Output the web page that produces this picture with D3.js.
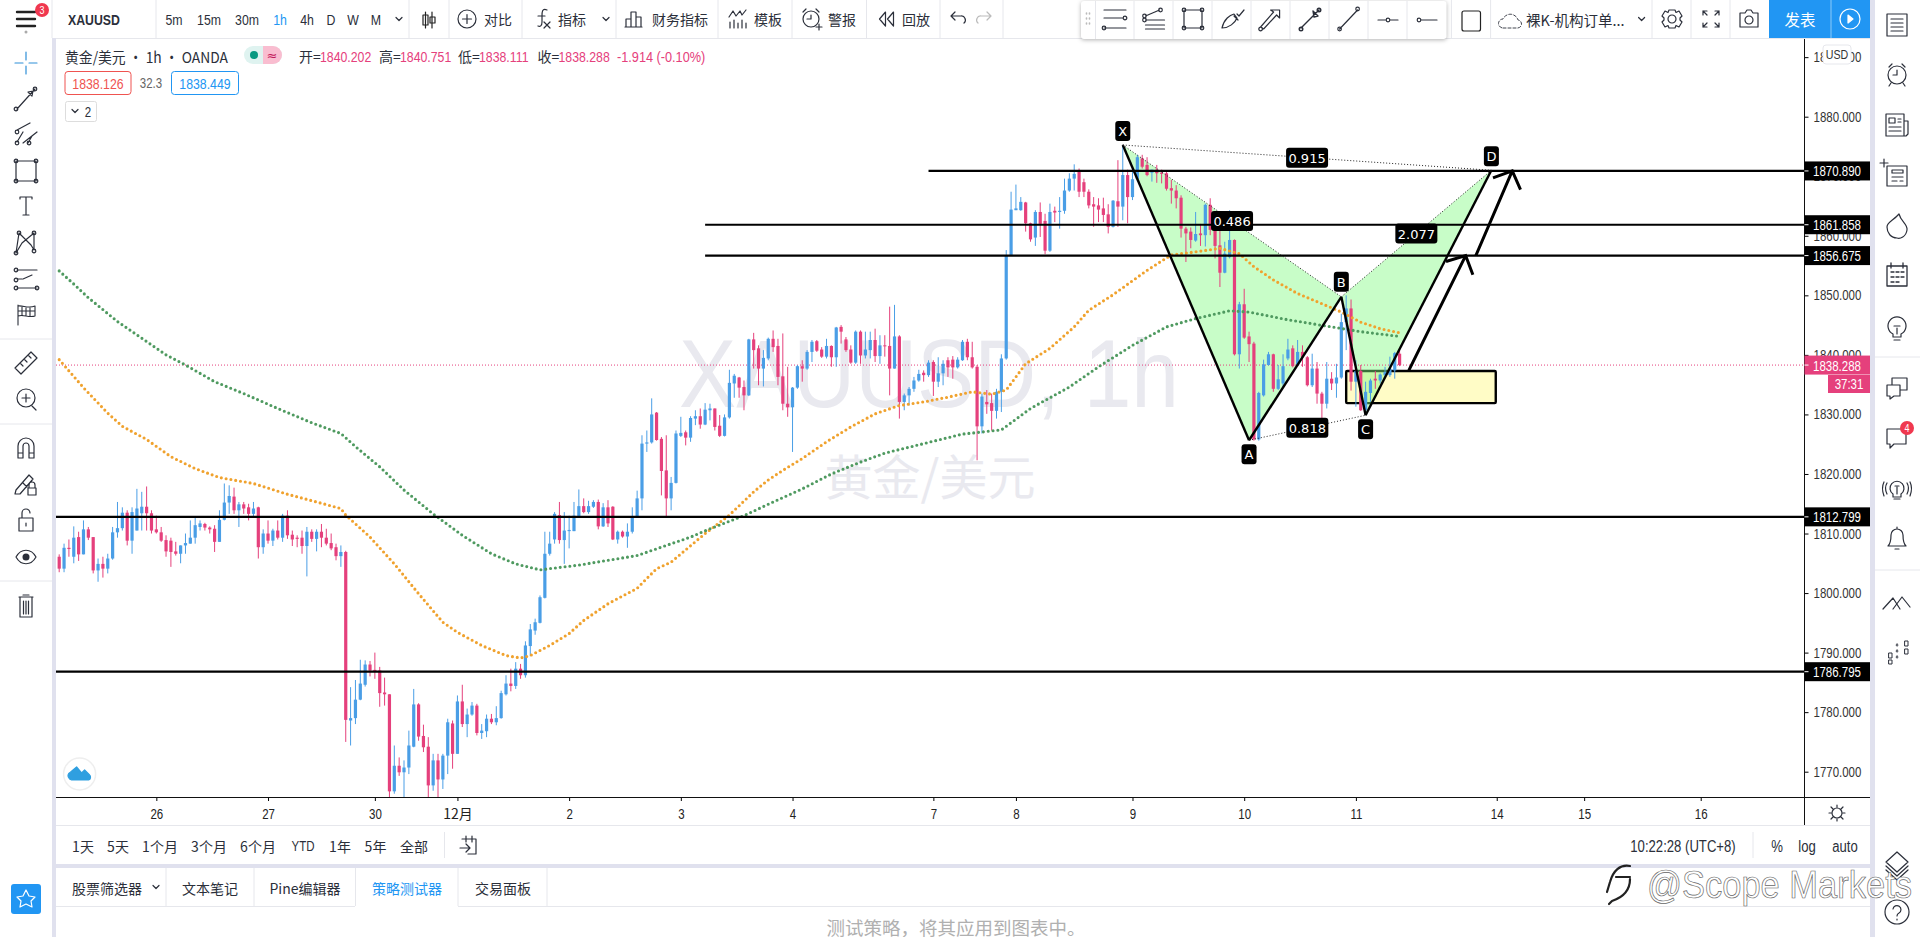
<!DOCTYPE html>
<html>
<head>
<meta charset="utf-8">
<title>XAUUSD 1h</title>
<script src="https://cdn.jsdelivr.net/npm/d3@7/dist/d3.min.js"></script>
<style>
  html, body { margin: 0; padding: 0; background: #fff; overflow: hidden; }
  svg { display: block; }
</style>
</head>
<body>
<svg id="page" width="1920" height="937"></svg>
<script>
// ==================== data ====================

const candleOpen = [
  1806.1,1804.1,1807.6,1806.1,1809.4,1806.5,1810.7,1809.4,1803.8,1804.9,1804.1,1805.8,1810.2,1810.9,1813.5,1808.8,1810.5,1813.4,1814.5,1813.4,
  1810.7,1810.2,1808.9,1808.8,1807,1806.6,1808,1808.3,1809.3,1811.1,1811.6,1811,1810.8,1808.6,1812.3,1815.2,1816.2,1813.9,1814.9,1814.4,
  1813.3,1814.4,1807.7,1810,1808.8,1810.5,1809.3,1813,1809.8,1809.3,1809.3,1807.9,1810.3,1809.1,1810.3,1809.3,1808.4,1807.7,1806.2,1806.9,
  1778.6,1779,1782.1,1784.6,1788,1787.1,1787,1783.3,1783,1766.7,1771,1769.9,1770.7,1774.2,1781.3,1776,1774.2,1767.7,1771.9,1768.7,
  1772.7,1778.1,1773,1781.8,1778,1779.6,1781.1,1776.5,1776.8,1778.9,1778.3,1779,1783,1784.8,1784.4,1787.3,1786.2,1791.1,1793.7,1795,
  1799.2,1806.6,1809,1813.1,1808.9,1810.4,1810.4,1812.8,1814.6,1813.6,1814.5,1815.3,1811.2,1814.4,1814.5,1809,1810.3,1809.5,1810.3,1812.9,
  1815.9,1825.1,1825.3,1830.3,1825.9,1820.6,1815.9,1818.5,1826.4,1827,1826.1,1829.3,1829.7,1828.3,1830.7,1831,1828.1,1826.4,1829.5,1835.2,
  1836.2,1834.6,1833.2,1842.6,1841.1,1837.7,1839.4,1842.7,1841.5,1836.4,1831.8,1831.2,1834.5,1838.1,1837.7,1840.5,1842.3,1840.9,1839.7,1841.5,
  1839.6,1844.7,1842.6,1840.9,1838.7,1843.9,1839.9,1840.8,1842.5,1839.8,1841.6,1841.5,1837.7,1843.1,1832.1,1833.2,1834.3,1835.7,1837,1836.6,
  1838.8,1835.5,1836.9,1839.1,1839.2,1837.9,1839.1,1842.2,1839.6,1838,1828,1832.1,1831.9,1830.6,1833.8,1839.4,1856.7,1864.3,1864.3,1865.6,
  1862.1,1859.7,1864,1862.5,1857.5,1864.2,1864,1864.2,1867.6,1869.6,1870.9,1869,1867.4,1865.3,1865.1,1864.6,1863.6,1861.5,1865.8,1864.9,
  1870.2,1866.5,1869.5,1873,1871.9,1870.6,1871.1,1870.6,1870.5,1868,1867.6,1866.4,1861.2,1860.7,1859.2,1860.4,1860.1,1865.2,1861.2,1858.4,
  1853.8,1856.4,1859.3,1840.1,1848.5,1843.1,1841.9,1825.8,1833.2,1838.3,1840.1,1834.3,1835.2,1839.4,1841.1,1838.3,1840.5,1839.6,1834.9,1837.7,
  1833.5,1831.8,1836,1835.2,1836.2,1845.5,1847.8,1835.5,1837.3,1830.7,1833.6,1836,1835.7,1836.6,1836.6,1837.4,1840.2
];
const candleHigh = [
  1806.5,1808.3,1809,1811.2,1810.3,1812.2,1811.1,1809.4,1805.8,1806.1,1806.6,1811.1,1815.3,1814.4,1813.9,1814.4,1817.5,1817,1817.9,1813.9,
  1813,1811.1,1809.7,1809.3,1808.6,1808,1810,1812.2,1812.8,1812.2,1811.8,1811.2,1811.4,1813.9,1818.4,1818.1,1817.7,1815.3,1815.3,1815,
  1815.3,1814.5,1810.7,1812.2,1810.8,1812.2,1813.3,1813.9,1810.5,1809.7,1810.5,1811.1,1810.7,1810.7,1811.6,1810.8,1810,1808.3,1808,1807.1,
  1784.2,1785.4,1788.8,1788.7,1788.6,1790,1787.6,1785.8,1783,1774.4,1772.4,1771.9,1776.9,1783.9,1781.5,1777.9,1775.8,1773,1773,1773,
  1778.9,1778.6,1782.8,1784.6,1780.6,1781.7,1781.4,1778,1779.6,1779.7,1781,1783.6,1786.2,1787.3,1788.4,1788.1,1791.9,1794.8,1795.7,1799.6,
  1810.3,1810.3,1813.6,1815.3,1813.6,1813,1815.3,1817.4,1815.9,1815.5,1815.6,1815.7,1815.1,1815.6,1814.6,1810.5,1810.5,1811.7,1814.4,1817.2,
  1826.5,1827.3,1832.7,1830.4,1826.2,1826.5,1819.5,1827.3,1829.6,1827.3,1829.7,1830.7,1831,1831.9,1831.8,1831,1829.9,1830,1837.5,1836.8,
  1836.3,1835.7,1842.7,1843.7,1841.6,1840.8,1842.9,1844.1,1842.7,1843.6,1838,1834.6,1838.3,1839.1,1840.8,1842.5,1842.5,1841.3,1842.7,1841.6,
  1844.7,1845,1843,1841.6,1844.1,1844.1,1843.9,1843.9,1844.4,1843.3,1843.3,1848.1,1848.4,1843.3,1833.5,1834.6,1836.3,1837.5,1837.4,1839.1,
  1839.1,1839.6,1839.1,1839.6,1839.8,1839.6,1842.5,1842.7,1842.2,1838.3,1833.5,1834.1,1833.5,1834.3,1840.1,1857.6,1867.4,1868.6,1866.5,1865.7,
  1862.2,1864.3,1865.6,1863.7,1865.4,1864.9,1866.5,1869.6,1870.5,1872,1871.3,1869.6,1867.8,1866.5,1866.3,1866.4,1865.3,1866,1872.7,1875.2,
  1871.1,1871.6,1873.6,1873.6,1873.2,1871.1,1871.9,1871.1,1870.8,1869.4,1868.5,1866.8,1861.5,1861.4,1864,1862,1865.4,1866.3,1862.6,1861.2,
  1859,1864.3,1859.4,1848.9,1851.1,1843.9,1842.2,1833.8,1839.2,1840.5,1840.2,1838.3,1840.1,1842.7,1841.6,1842.5,1841.6,1839.8,1840.2,1838.8,
  1833.8,1838.8,1837.1,1838.5,1846.9,1850,1849.3,1839.1,1838.3,1835.5,1836,1837.3,1836.9,1838,1839.7,1840.5,1840.751
];
const candleLow = [
  1803.5,1803.5,1806.1,1805,1805.4,1806.5,1808.9,1803.3,1801.9,1802.6,1803.3,1805.6,1809.3,1810.5,1808,1806.6,1810.5,1810.5,1810.5,1810,
  1810,1808.6,1806.1,1804.4,1806.3,1805,1806.6,1808.3,1808.3,1810.5,1810.5,1810,1806.9,1808.6,1812.2,1813.3,1813.3,1811.1,1813.3,1812.2,
  1812.8,1805.8,1806.6,1808.3,1807.9,1809,1808.6,1809.1,1807.9,1807.7,1806.6,1802.8,1808.6,1807,1807.7,1808,1807.2,1805.5,1804.4,1775,
  1774.4,1778,1782,1784.3,1786,1785.6,1780.9,1781.1,1765.7,1766.3,1769.3,1765.7,1769.6,1774.1,1775.2,1773.3,1765.7,1766.8,1765.7,1767.1,
  1769.6,1770.5,1773,1777.5,1775.8,1779.4,1776.1,1775.5,1775.8,1778,1777.8,1778.9,1782.8,1783.5,1783.9,1785.6,1785.8,1789.4,1793,1794.9,
  1799.1,1806.3,1808.3,1808.3,1804.9,1807.5,1810.4,1812.8,1813.4,1813.3,1814.3,1810.7,1811.1,1811.1,1808.9,1808.3,1809.3,1807.6,1810,1812.8,
  1813.9,1823.7,1825.1,1825.6,1816.4,1812.8,1813.9,1818.4,1826.2,1824.8,1825.4,1828.2,1827.6,1828.2,1829,1827.3,1826.2,1826.3,1829.3,1832.8,
  1832.8,1830.7,1833.1,1837.7,1834.9,1834.7,1839.1,1840.5,1834.9,1830.7,1829.6,1823.7,1834.3,1835.5,1837.5,1838.8,1840.5,1839.5,1839.4,1838,
  1838,1841.9,1840.5,1838.5,1838.5,1838.5,1839.4,1839.4,1838.8,1838.5,1839.7,1833.2,1837.7,1829.3,1830.7,1831.5,1833.8,1835.5,1835.5,1836.3,
  1833.1,1834.6,1834.9,1836.3,1836,1837.7,1839,1839.1,1837.7,1822.3,1826.8,1830.1,1827.3,1829.3,1830.4,1839.2,1856.6,1864.3,1864.2,1860.7,
  1859,1858.3,1859.8,1856.9,1857.3,1862.3,1861.2,1863.7,1867.4,1867.6,1866.5,1866.5,1864.6,1861.5,1862.3,1862.3,1860.4,1861.4,1861.5,1862.6,
  1862.1,1866,1869.1,1871.3,1870,1869.1,1868.9,1868.8,1867.6,1865.4,1864.6,1859.7,1855.6,1857.9,1859,1858.3,1858.2,1860.1,1856.2,1851.4,
  1853.7,1856.2,1839.9,1837.7,1842.7,1838.8,1825.6,1825.6,1833,1838.2,1833.8,1834.1,1834.6,1839.1,1837.9,1838.1,1838,1834.7,1834.6,1831.8,
  1829.3,1831,1834.1,1832.8,1836,1840.8,1834,1831.3,1830.6,1830.4,1832.1,1834.3,1835.2,1836.3,1836.3,1836,1838.111
];
const candleClose = [
  1804.1,1807.6,1807.4,1809.3,1806.5,1810.7,1809.3,1803.8,1804.9,1804.1,1805.8,1810.2,1810.9,1813.5,1808.8,1813.6,1814.2,1814.5,1813.4,1810.5,
  1810.2,1808.8,1807,1806.9,1806.6,1808,1808.4,1809.3,1811.4,1811.7,1811,1810.7,1808.6,1812.3,1815.2,1816.3,1813.9,1814.9,1814.2,1813.3,
  1814.2,1807.7,1810,1808.8,1810.5,1809.3,1813,1809.7,1809,1809.1,1807.9,1810.3,1809.1,1810.3,1809.3,1808.3,1807.5,1806.2,1806.9,1778.7,
  1779,1782.1,1784.8,1788,1787,1786.9,1783.2,1783,1766.7,1771,1769.9,1770.7,1774.4,1781.3,1775.9,1774.1,1767.7,1771.9,1768.7,1772.7,
  1778.3,1773,1781.8,1778,1779.6,1781.1,1776.5,1776.9,1778.9,1778.3,1779,1783.2,1784.8,1784.4,1787.3,1786.2,1791.2,1793.9,1795.1,1799.3,
  1806.6,1808.3,1813.3,1808.9,1810.5,1810.6,1813,1814.6,1813.6,1814.6,1815.3,1811.2,1814.4,1811.7,1809,1810.3,1809.5,1810.3,1812.9,1815.9,
  1825.1,1825.3,1830,1825.7,1820.5,1815.9,1818.5,1826.8,1826.9,1826.1,1829.4,1829.7,1828.3,1830.8,1831,1827.9,1826.4,1829.5,1835.3,1836.5,
  1834.5,1833.2,1842.6,1840.8,1837.7,1839.5,1842.7,1841.3,1836.3,1831.8,1831.2,1834.5,1838.1,1837.7,1840.5,1842.2,1840.7,1839.7,1841.5,1839.6,
  1844.6,1843.9,1840.8,1838.7,1843.9,1839.9,1840.9,1842.5,1839.8,1841.6,1841.5,1837.7,1843.1,1832.1,1833.2,1834.3,1835.7,1836.8,1836.6,1838.7,
  1835.5,1836.9,1838.5,1837.9,1837.9,1839.2,1842.2,1839.6,1837.9,1828,1833,1831.7,1830.6,1833.8,1839.4,1856.7,1864.4,1864.6,1865.7,1862.1,
  1859.4,1864,1862,1857.5,1864,1863.9,1864.2,1867.6,1869.6,1870.4,1867.4,1867.4,1865.1,1864.9,1864.4,1863.5,1861.5,1865.9,1864.9,1870.2,
  1866.5,1869.5,1873.2,1871.6,1870.2,1871.1,1870.5,1870.4,1867.9,1867.6,1866.3,1861.2,1860.4,1859.3,1860.3,1860.1,1865.2,1861,1858.3,1853.8,
  1857,1859.3,1840.1,1848.5,1842.9,1841.8,1825.8,1833.6,1838.4,1840.1,1834.3,1835.9,1838.1,1840.9,1838.1,1840.5,1839.6,1834.9,1837.7,1833.5,
  1831.8,1836,1835.2,1836.2,1845.5,1847.8,1835.5,1837.3,1830.7,1833.8,1835.7,1835.7,1836.7,1837.1,1837.7,1840.3,1838.288
];

const orangeBars = [0,5,10,13,18,23,28,33,40,47,53,58,59,64,69,74,79,82,87,92,95,97,101,105,108,113,119,123,126,133,138,143,146,149,153,158,163,168,173,178,183,188,192,195,197,199,204,209,212,217,224,229,234,239,243,246,250,255,260,264,268,272,276];
const orangeMa = [1839.2,1834.5,1830.2,1828,1825.8,1822.9,1820.9,1819.4,1818.4,1816.6,1815.3,1814.2,1813.1,1809.4,1804.9,1799.9,1795.1,1793.4,1791.2,1789.5,1789.1,1789.5,1791.2,1793.2,1795.4,1798.2,1800.8,1804.1,1805.2,1810,1813.1,1817,1819,1820.6,1822.6,1825.4,1827.9,1830.1,1831.5,1832.1,1832.9,1833.8,1833.4,1834.1,1836.3,1838.5,1841.1,1844.7,1847.5,1850.1,1854.2,1856.8,1857.3,1857.9,1857,1854.8,1852.6,1850.3,1848.6,1847.2,1845.5,1844.4,1843.7];
const greenBars = [0,3,6,12,17,22,26,32,38,45,52,58,61,66,71,77,83,89,94,99,101,107,113,119,125,130,134,141,147,153,159,165,170,178,186,194,200,208,214,221,228,234,241,245,253,262,268,276];
const greenMa = [1854.1,1851.9,1849.6,1845.6,1842.8,1840,1838.3,1835.5,1833.5,1831,1828.6,1826.8,1824.6,1821.2,1817.3,1813.3,1809.7,1806.6,1804.9,1803.9,1804.1,1804.7,1805.5,1806.3,1808,1809.4,1810.8,1813,1815.3,1817.5,1820,1822,1823.5,1825.1,1826.7,1827.4,1831,1834.6,1838,1841.6,1844.7,1846.1,1847.4,1847.2,1845.9,1844.7,1843.9,1843.1];

const priceTicks = [1890,1880,1870,1860,1850,1840,1830,1820,1810,1800,1790,1780,1770];
const dateTickBars = [20,43,65,82,105,128,151,180,197,221,244,267,296,314,338];
const dateTickLabels = ['26','27','30','12月','2','3','4','7','8','9','10','11','14','15','16'];

const levelPrices = [1870.89,1861.858,1856.675,1812.799,1786.795];
const levelStartBars = [179,133,133,-1,-1];
const levelLabels = ['1870.890','1861.858','1856.675','1812.799','1786.795'];

const lastPrice = 1838.288;
const patternNames = ['X','A','B','C','D'];
const patternBars = [219,245,264,269,294.9];
const patternPrices = [1875.25,1825.66,1849.75,1829.86,1871];
const patternNameDy = [-14,14,-15,14,-14];
const ratioLabels = ['0.915','0.486','2.077','0.818'];
const ratioFrom = [0,0,2,1];
const ratioTo = [4,2,4,3];

const zoneBars = [265,295.8];
const zonePrices = [1837.3,1831.9];
const arrowTailBars = [277.9,291.7];
const arrowTailPrices = [1837.4,1856.675];
const arrowTipBars = [289.6,299.2];
const arrowTipPrices = [1856.675,1870.89];

const intervalLabels = ['5m','15m','30m','1h','4h','D','W','M'];
const rangeLabels = ['1天','5天','1个月','3个月','6个月','YTD','1年','5年','全部'];
const panelTabs = ['股票筛选器','文本笔记','Pine编辑器','策略测试器','交易面板'];

// ==================== scales and page frame ====================

const svg = d3.select('#page');
const sans = '"Liberation Sans",sans-serif';
const cjk = '"Noto Sans CJK SC","Liberation Sans",sans-serif';
const dejavu = '"DejaVu Sans",sans-serif';
const UP = '#4a9ee6', DOWN = '#e5407c', INK = '#2b2f3a', RULE = '#e6e7ec', STRIP = '#e0e1ee', BLUE = '#2196f3';

const chartLeft = 56, chartRight = 1804.5, chartTop = 38, chartBottom = 797;
const x = d3.scaleLinear().domain([0, 276]).range([59.2, 1399.6]);
const y = d3.scaleLinear().domain([1770, 1880]).range([771.7, 116.7]);

function txt(parent, px, py, str, o = {}) {
  return parent.append('text')
    .attr('x', px).attr('y', py)
    .attr('dominant-baseline', 'central')
    .attr('text-anchor', o.anchor || 'middle')
    .style('font-family', o.family || sans)
    .style('font-size', (o.size || 14) + 'px')
    .style('font-weight', o.weight || 'normal')
    .style('fill', o.fill || INK)
    .text(str);
}
function rect(parent, rx, ry, w, h, fill, o = {}) {
  return parent.append('rect').attr('x', rx).attr('y', ry).attr('width', w).attr('height', h)
    .attr('rx', o.r || 0).style('fill', fill).style('stroke', o.stroke || 'none').style('stroke-width', o.sw || 1);
}
function vrule(parent, px, y1, y2, col) {
  parent.append('line').attr('x1', px).attr('x2', px).attr('y1', y1).attr('y2', y2).style('stroke', col || RULE);
}
function hrule(parent, py, x1, x2, col) {
  parent.append('line').attr('x1', x1).attr('x2', x2).attr('y1', py).attr('y2', py).style('stroke', col || RULE);
}
function icon(parent, px, py, d, o = {}) {
  return parent.append('path').attr('transform', `translate(${px},${py})`).attr('d', d)
    .style('fill', o.fill || 'none').style('stroke', o.stroke || INK).style('stroke-width', o.sw || 1.2)
    .style('stroke-linecap', 'round').style('stroke-linejoin', 'round');
}

rect(svg, 0, 0, 1920, 937, '#fff');

// ==================== chart pane ====================

const pane = svg.append('g');
svg.append('defs').append('clipPath').attr('id', 'paneClip')
  .append('rect').attr('x', chartLeft).attr('y', chartTop).attr('width', chartRight - chartLeft).attr('height', chartBottom - chartTop);
pane.attr('clip-path', 'url(#paneClip)');

// watermark
pane.append('text').attr('x', 679).attr('y', 407).attr('textLength', 500).attr('lengthAdjust', 'spacingAndGlyphs')
  .style('font-family', sans).style('font-size', '97px').style('fill', '#e9e9ef').text('XAUUSD, 1h');
txt(pane, 930, 474, '黄金/美元', { size: 48, family: cjk, fill: '#e9e9ef' });

// pattern fills sit under the candles
rect(pane, x(zoneBars[0]), y(zonePrices[0]), x(zoneBars[1]) - x(zoneBars[0]), y(zonePrices[1]) - y(zonePrices[0]), '#fffcc6', { stroke: '#000', sw: 2.4, r: 1 });
const pt = i => [x(patternBars[i]), y(patternPrices[i])];
[[0, 1, 2], [2, 3, 4]].forEach(tri => {
  pane.append('path').attr('d', d3.line()(tri.map(pt)) + 'Z').style('fill', 'rgba(130,250,130,0.44)');
});

pane.append('line').attr('x1', chartLeft).attr('x2', chartRight).attr('y1', y(lastPrice)).attr('y2', y(lastPrice))
  .style('stroke', DOWN).style('stroke-dasharray', '1 2');

// candles
const candles = pane.selectAll('.bar').data(candleOpen.map((o, i) => i)).enter().append('g').attr('class', 'bar');
const barColor = i => candleClose[i] >= candleOpen[i] ? UP : DOWN;
candles.append('line')
  .attr('x1', i => x(i)).attr('x2', i => x(i))
  .attr('y1', i => y(candleHigh[i])).attr('y2', i => y(candleLow[i]))
  .style('stroke', barColor).style('stroke-width', 1);
candles.append('rect')
  .attr('x', i => x(i) - 1.6).attr('width', 3.2)
  .attr('y', i => y(Math.max(candleOpen[i], candleClose[i])))
  .attr('height', i => Math.max(1, Math.abs(y(candleOpen[i]) - y(candleClose[i]))))
  .style('fill', barColor);

// moving averages
function maLine(bars, values, col) {
  const line = d3.line().x(d => x(d[0])).y(d => y(d[1]));
  pane.append('path').attr('d', line(bars.map((b, i) => [b, values[i]])))
    .style('fill', 'none').style('stroke', col).style('stroke-width', 3.1)
    .style('stroke-linecap', 'round').style('stroke-dasharray', '0 4.86');
}
maLine(orangeBars, orangeMa, '#f0a22e');
maLine(greenBars, greenMa, '#4f9a60');

// levels
levelPrices.forEach((p, i) => {
  const left = levelStartBars[i] < 0 ? chartLeft : x(levelStartBars[i]);
  pane.append('line').attr('x1', left).attr('x2', chartRight).attr('y1', y(p)).attr('y2', y(p))
    .style('stroke', '#000').style('stroke-width', 2.2);
});

// XABCD legs
[[0, 1], [1, 2], [2, 3], [3, 4]].forEach(l => {
  pane.append('path').attr('d', d3.line()(l.map(pt))).style('stroke', '#000').style('stroke-width', 2.4).style('fill', 'none');
});
ratioFrom.forEach((a, i) => {
  pane.append('path').attr('d', d3.line()([pt(a), pt(ratioTo[i])]))
    .style('stroke', '#222').style('stroke-width', 1).style('stroke-dasharray', '1 2').style('fill', 'none');
});

// arrows
arrowTipBars.forEach((b, i) => {
  const tail = [x(arrowTailBars[i]), y(arrowTailPrices[i])], tip = [x(b), y(arrowTipPrices[i])];
  const back = Math.atan2(tail[1] - tip[1], tail[0] - tip[0]);
  const barb = a => [tip[0] + 20.5 * Math.cos(back + a), tip[1] + 20.5 * Math.sin(back + a)];
  pane.append('path').attr('d', d3.line()([tail, tip]) + d3.line()([barb(0.82), tip, barb(-0.82)]))
    .style('fill', 'none').style('stroke', '#000').style('stroke-width', 3);
});

// pattern labels
function tag(px, py, str, w, h) {
  rect(pane, px - w / 2, py - h / 2, w, h, '#000', { r: 3 });
  txt(pane, px, py + 0.5, str, { family: dejavu, size: 13, fill: '#fff' });
}
patternNames.forEach((n, i) => tag(pt(i)[0], pt(i)[1] + patternNameDy[i], n, 15, 20));
ratioLabels.forEach((r, i) => {
  const a = pt(ratioFrom[i]), b = pt(ratioTo[i]);
  tag((a[0] + b[0]) / 2, (a[1] + b[1]) / 2, r, 42, 20);
});

// ==================== axes ====================

const axes = svg.append('g');
const priceAxis = axes.append('g').attr('transform', `translate(${chartRight},0)`)
  .call(d3.axisRight(y).tickValues(priceTicks).tickSize(4).tickPadding(5).tickFormat(d3.format('.3f')));
priceAxis.select('.domain').remove();
priceAxis.selectAll('text').style('font-family', sans).style('font-size', '14px').style('fill', '#333');
vrule(axes, chartRight, chartTop, 825, '#111');

const dateAxis = axes.append('g').attr('transform', `translate(0,${chartBottom})`)
  .call(d3.axisBottom(x).tickValues(dateTickBars).tickSize(4).tickPadding(8).tickFormat((d, i) => dateTickLabels[i]));
dateAxis.select('.domain').remove();
dateAxis.selectAll('text').style('font-family', sans).style('font-size', '14px').style('fill', '#222');
hrule(axes, chartBottom + 0.5, chartLeft, 1870, '#111');

function priceBox(p, label, col) {
  rect(axes, chartRight, y(p) - 9.5, 65.5, 19, col);
  txt(axes, 1837, y(p) + 0.5, label, { size: 14, fill: '#fff' });
  hrule(axes, y(p), chartRight, chartRight + 4, '#fff');
}
levelPrices.forEach((p, i) => priceBox(p, levelLabels[i], '#000'));
priceBox(lastPrice, d3.format('.3f')(lastPrice), DOWN);
rect(axes, 1828, 375, 42, 18, DOWN);
txt(axes, 1849, 384, '37:31', { size: 14, fill: '#fff' });
rect(axes, 1823, 45, 28, 19, '#fff', { stroke: RULE, r: 3 });
txt(axes, 1837, 54.5, 'USD', { size: 13, fill: '#333' });
icon(axes, 1837, 813, 'M-5 0a5 5 0 1 0 10 0a5 5 0 1 0 -10 0M0 -8V-6M0 6V8M-8 0H-6M6 0H8M-6 -6L-4 -4M4 4L6 6M-6 6L-4 4M4 -4L6 -6');

// ==================== legend ====================

const legend = svg.append('g');
txt(legend, 65, 56, '黄金/美元 · 1h · OANDA', { anchor: 'start', family: cjk, size: 15 })
  .attr('textLength', 163).attr('lengthAdjust', 'spacingAndGlyphs');
rect(legend, 244, 46, 38, 18, '#dff3f0', { r: 9 });
legend.append('path').attr('d', 'M263 46h10a9 9 0 0 1 0 18h-10z').style('fill', '#f9bdd0');
legend.append('circle').attr('cx', 254).attr('cy', 55).attr('r', 4).style('fill', '#089981');
txt(legend, 272, 55, '≈', { size: 13, fill: '#c2185b', family: dejavu });
[['开=', 299, '1840.202'], ['高=', 379, '1840.751'], ['低=', 458, '1838.111'], ['收=', 537.5, '1838.288']].forEach(d => {
  txt(legend, d[1], 56, d[0], { anchor: 'start', size: 14 });
  txt(legend, d[1] + 21, 56, d[2], { anchor: 'start', size: 15, fill: DOWN });
});
txt(legend, 617, 56, '-1.914 (-0.10%)', { anchor: 'start', size: 15.5, fill: DOWN });
rect(legend, 65, 71.5, 66, 23, '#fff', { stroke: '#ef5350', r: 3 });
txt(legend, 98, 83, '1838.126', { size: 15, fill: '#ef5350' });
txt(legend, 151, 83, '32.3', { size: 14, fill: '#666' });
rect(legend, 171.5, 71.5, 67, 23, '#fff', { stroke: BLUE, r: 3 });
txt(legend, 205, 83, '1838.449', { size: 15, fill: BLUE });
rect(legend, 65.5, 101.5, 31, 20, '#fff', { stroke: '#ddd', r: 2 });
icon(legend, 75, 111, 'M-3 -1.5L0 1.5L3 -1.5');
txt(legend, 88, 111.5, '2', { size: 14 });

// bottom-left logo
legend.append('circle').attr('cx', 79.6).attr('cy', 774).attr('r', 16).style('fill', '#fff').style('stroke', '#eee').style('stroke-width', 1.5);
icon(legend, 79.6, 774, 'M-10 5a4 4 0 0 1 1 -7L-3 -7L2 -1L5 -4L10 1a3 3 0 0 1 -1 5H-8z', { fill: '#2f9fe0', stroke: '#2f9fe0' });

// ==================== top toolbar ====================

const topBar = svg.append('g');
rect(topBar, 0, 0, 1870, 38, '#fff');
hrule(topBar, 38.5, 0, 1870);
icon(topBar, 26, 19, 'M-9 -7H9M-9 0H9M-9 7H9', { sw: 2.4, stroke: '#222' });
topBar.append('circle').attr('cx', 26).attr('cy', 32).attr('r', 1.5).style('fill', '#aaa');
topBar.append('circle').attr('cx', 42).attr('cy', 10).attr('r', 7).style('fill', '#f0384f');
txt(topBar, 42, 10, '3', { size: 11, fill: '#fff' });
txt(topBar, 68, 19, 'XAUUSD', { anchor: 'start', size: 15, weight: 'bold' });
[52, 156, 409, 449, 522, 616, 718, 792, 866.5, 940, 1003, 1451.4, 1490.6, 1652, 1691, 1730].forEach(v => vrule(topBar, v, 0, 38));
[174, 209, 247, 280, 307, 331, 353, 376].forEach((v, i) => txt(topBar, v, 19, intervalLabels[i], { size: 15, fill: i === 3 ? BLUE : INK }));
icon(topBar, 399, 19, 'M-3 -1.5L0 1.5L3 -1.5');
icon(topBar, 429, 19, 'M-3.5 -7V9M-6 -4H-1V6H-6ZM3 -7V9M1 -2H6V4H1Z', { stroke: '#222' });
icon(topBar, 467, 19, 'M-9 0a9 9 0 1 0 18 0a9 9 0 1 0 -18 0M-4.5 0H4.5M0 -4.5V4.5');
txt(topBar, 498, 19, '对比', { family: cjk });
icon(topBar, 542, 19, 'M5 -9c-5 -2 -5 2 -5 6v6c0 4 -2 5 -4 4M-4 -3H3M2 3L8 9M8 3L2 9');
txt(topBar, 572, 19, '指标', { family: cjk });
icon(topBar, 606, 19, 'M-3 -1.5L0 1.5L3 -1.5');
icon(topBar, 633, 19, 'M-7 8V0H-2V8M-2 8V-7H3V8M3 8V-2H8V8M-8 8H9');
txt(topBar, 680, 19, '财务指标', { family: cjk });
icon(topBar, 738, 19, 'M-9 -2L-5 -8L-2 -3L2 -8L4 -4L8 -9M-8 9V3M-4 9V1M0 9V4M4 9V1M8 9V4');
txt(topBar, 768, 19, '模板', { family: cjk });
icon(topBar, 811, 19, 'M-8 0a8 8 0 1 0 16 0a8 8 0 1 0 -16 0M0 -4V0H-4M-8 -7L-5 -10M8 -7L5 -10M5 8H11M8 5V11');
txt(topBar, 842, 19, '警报', { family: cjk });
icon(topBar, 886.5, 19, 'M-1 -7L-7 0L-1 7ZM7 -7L1 0L7 7Z');
txt(topBar, 916, 19, '回放', { family: cjk });
icon(topBar, 957, 19, 'M-6 -3H4a4 4 0 0 1 3 7M-6 -3L-2 -7M-6 -3L-2 1');
icon(topBar, 985, 19, 'M6 -3H-4a4 4 0 0 0 -3 7M6 -3L2 -7M6 -3L2 1', { stroke: '#bbb' });

// floating drawing bar
const floatBar = svg.append('g');
rect(floatBar, 1081, 1, 365.5, 38, '#fff', { r: 3 }).style('filter', 'drop-shadow(0 1px 2px rgba(0,0,0,0.3))');
icon(floatBar, 1088, 19, 'M-1.5 -6V-5M1.5 -6V-5M-1.5 -1V0M1.5 -1V0M-1.5 4V5M1.5 4V5', { stroke: '#bbb', sw: 1.6 });
[1095.5, 1134, 1173, 1212, 1251, 1290, 1329, 1368, 1407].forEach(v => vrule(floatBar, v, 1, 39));
const handle = (a, b) => `M${a - 1.8} ${b}a1.8 1.8 0 1 0 3.6 0a1.8 1.8 0 1 0 -3.6 0`;
icon(floatBar, 1115, 19, 'M-11 -9H11M-11 -1H8M-11 9H11' + handle(10, -1) + handle(-11, 9));
icon(floatBar, 1153.5, 19, 'M-8 -3L6 -9M-8 1H11M-8 6H11M-8 10H11' + handle(7, -9) + handle(-9, -3) + handle(-9, 1));
icon(floatBar, 1193, 19, 'M-9 -9H9V9H-9Z' + handle(-9, -9) + handle(9, -9) + handle(-9, 9) + handle(9, 9));
icon(floatBar, 1232, 19, 'M-10 9C-8 0 -2 -4 2 -5L5 -1C3 4 -3 9 -10 9ZM2 -3L6 1M5 -5L7 -3L12 -9');
icon(floatBar, 1270.6, 19, 'M-10 8L3 -7L0 -9H9V-1L6 -4L-7 10Z' + handle(-10, 10));
icon(floatBar, 1310, 19, 'M-9 9L9 -9' + handle(-9, 10) + handle(9, -9) + 'M3 -8L8 -3L4 -2Z', { sw: 1.4 });
icon(floatBar, 1348.6, 19, 'M-9 10L9 -9' + handle(-9, 10) + handle(9, -10));
icon(floatBar, 1388, 19, 'M-10 1H-2M2 1H10' + handle(0, 1));
icon(floatBar, 1427, 19, 'M-6 1H10' + handle(-8, 1));

rect(topBar, 1462, 11, 18.5, 20, '#fff', { stroke: '#222', r: 2, sw: 1.2 });
icon(topBar, 1510, 19, 'M-7 9H7a4 4 0 0 0 1 -8a8 8 0 0 0 -15 -1a4.5 4.5 0 0 0 0 9', { sw: 0.9 }).style('stroke-dasharray', '3 2');
txt(topBar, 1526, 19, '裸K-机构订单...', { anchor: 'start', family: cjk, size: 14.5 });
icon(topBar, 1641.6, 19, 'M-3 -1.5L0 1.5L3 -1.5');
icon(topBar, 1672, 19, 'M-4 0a4 4 0 1 0 8 0a4 4 0 1 0 -8 0M-3 -9H3L4 -6.5L7 -8L10 -3L8 -1V1L10 3L7 8L4 6.5L3 9H-3L-4 6.5L-7 8L-10 3L-8 1V-1L-10 -3L-7 -8L-4 -6.5Z');
icon(topBar, 1711, 19, 'M-8 -4V-8H-4M-8 -8L-4 -4M8 -4V-8H4M8 -8L4 -4M-8 4V8H-4M-8 8L-4 4M8 4V8H4M8 8L4 4');
icon(topBar, 1749, 19, 'M-9 -6H-4L-2 -9H2L4 -6H9V8H-9ZM-4 1a4 4 0 1 0 8 0a4 4 0 1 0 -8 0');
rect(topBar, 1769, 0, 101, 38, BLUE);
vrule(topBar, 1831, 0, 38, '#8ccaf8');
txt(topBar, 1800, 19, '发表', { family: cjk, size: 15.5, fill: '#fff' });
icon(topBar, 1850, 19, 'M-10 0a10 10 0 1 0 20 0a10 10 0 1 0 -20 0', { stroke: '#fff' });
icon(topBar, 1850, 19, 'M-2 -4L3 0L-2 4Z', { stroke: '#fff', fill: '#fff' });

// ==================== left toolbar ====================

const leftBar = svg.append('g');
rect(leftBar, 0, 38, 52, 899, '#fff');
rect(leftBar, 52, 38, 4, 899, STRIP);
[339, 424, 581].forEach(v => hrule(leftBar, v, 0, 52));
icon(leftBar, 26, 63, 'M-11 0H-3M3 0H11M0 -11V-3M0 3V11', { stroke: '#2f8fd8' });
icon(leftBar, 26, 99, 'M-9 10L9 -10' + handle(-10, 10) + handle(9, -10) + 'M2 -7L6 -3L7 -8Z', { fill: 'none' });
icon(leftBar, 26, 135, 'M-9 -5L4 -12M-9 7L-3 -3M-3 8L11 -3M2 8L6 1' + handle(-9, -3) + handle(-9, 8) + handle(3, 8));
icon(leftBar, 26, 171, 'M-10 -10H10V10H-10Z' + handle(-10, -10) + handle(10, -10) + handle(-10, 10) + handle(10, 10));
icon(leftBar, 26, 206, 'M-6 -9H6M0 -9V9M-3 9H3M-6 -9V-7M6 -9V-7');
icon(leftBar, 26, 243, 'M-7 -10L5 2L8 7M8 -10L-4 0L-10 10M-7 -10L-10 10M8 -10L8 7' + handle(-7, -10) + handle(8, -10) + handle(-10, 10) + handle(8, 8));
icon(leftBar, 26, 279, 'M-9 -9H11M-9 0H-4M6 -4L-3 0M-9 9H11' + handle(-10, -9) + handle(-10, 1) + handle(-10, 9) + handle(11, 9));
icon(leftBar, 26, 314, 'M-8 -9V11M-8 -8C-3 -9 2 -5 9 -8V2C3 4 -3 0 -8 2ZM-4 -7V1M0 -6V2M4 -6V2M-8 -3H9', { sw: 1.1 });
icon(leftBar, 26, 363, 'M-11 5L5 -11L11 -5L-5 11ZM-6 0L-3 3M-2 -4L1 -1M2 -8L5 -5');
icon(leftBar, 26, 399, 'M-9 -1a9 9 0 1 0 18 0a9 9 0 1 0 -18 0M-4 -1H4M0 -5V3M6 7L10 11');
icon(leftBar, 26, 448, 'M-8 10V-2a8 8 0 0 1 16 0V10H3V-2a3 3 0 0 0 -6 0V10ZM-8 5H-3M3 5H8');
icon(leftBar, 26, 484, 'M-10 6L3 -9L7 -5L-6 10L-11 10ZM-3 -1L1 3M2 4H10V11H2ZM3 4V1a3 3 0 0 1 6 0V4');
icon(leftBar, 26, 520, 'M-7 -2H7V11H-7ZM-4 -2V-7a4 4 0 0 1 8 0M0 3V6');
icon(leftBar, 26, 557, 'M-10 0C-5 -9 5 -9 10 0C5 9 -5 9 -10 0Z');
leftBar.append('circle').attr('cx', 26).attr('cy', 557).attr('r', 3.5).style('fill', INK);
icon(leftBar, 26, 606, 'M-6 -9H6V11H-6ZM-7 -9H7M-3 -11H3M-2.5 -5V8M0 -5V8M2.5 -5V8');
rect(leftBar, 11, 884, 30, 30, BLUE, { r: 3 });
icon(leftBar, 26, 899, 'M0 -9L3 -3L9 -2L5 2L6 8L0 5L-6 8L-5 2L-9 -2L-3 -3Z', { stroke: '#fff' });

// ==================== right toolbar ====================

const rightBar = svg.append('g');
rect(rightBar, 1870, 0, 50, 937, '#fff');
rect(rightBar, 1870, 0, 5, 937, STRIP);
[357, 570].forEach(v => hrule(rightBar, v, 1875, 1920));
const rx = 1897;
icon(rightBar, rx, 25, 'M-10 -11H10V11H-10ZM-6 -6H6M-6 -2H6M-6 2H6M-6 6H6');
icon(rightBar, rx, 75, 'M-9 0a9 9 0 1 0 18 0a9 9 0 1 0 -18 0M0 -5V0H-4M-8 -8L-5 -11M8 -8L5 -11M-6 8L-8 11M6 8L8 11');
icon(rightBar, rx, 125, 'M-11 -11H7V11H-11ZM7 -4H11V9L9 11H7M-8 -7H-2V-2H-8ZM1 -6H4M1 -3H4M-8 2H4M-8 6H4');
icon(rightBar, rx, 175, 'M-10 -9H10V11H-10ZM-5 -5H6V-2H-5ZM-5 2H6M-5 6H0M3 6H6');
icon(rightBar, 1884, 163, 'M-4 0H4M0 -4V4');
icon(rightBar, rx, 227, 'M2 -13C4 -5 11 -3 10 3C9 10 3 12 0 11C-6 11 -10 6 -10 0C-10 -5 -4 -6 2 -13Z');
icon(rightBar, rx, 275, 'M-10 -9H10V11H-10ZM-6 -12V-7M6 -12V-7M-6 -3H-3M-1 -3H2M4 -3H7M-6 2H-3M-1 2H2M4 2H7M-6 7H-3M-1 7H2', { sw: 1.3 });
icon(rightBar, rx, 327, 'M-4 7a9 9 0 1 1 8 0V10H-4ZM-3 13H3M0 1V7M-3 -1H3');
icon(rightBar, rx, 388, 'M-10 -3H3V8H-3L-7 11V8H-10ZM-5 -3V-10H10V2H3');
icon(rightBar, rx, 437, 'M-10 -8H9V7H-3L-7 11V7H-10Z');
rightBar.append('circle').attr('cx', rx + 10).attr('cy', 428).attr('r', 7).style('fill', '#f0384f');
txt(rightBar, rx + 10, 428, '4', { size: 11, fill: '#fff' });
icon(rightBar, rx, 488, 'M-4 6a7 7 0 1 1 8 0V9H-4ZM-3 11H3M0 -1V6M-2 -2H2M-10 -5Q-13 0 -10 6M10 -5Q13 0 10 6M-13 -6Q-16 0 -13 8M13 -6Q16 0 13 8');
icon(rightBar, rx, 538, 'M-9 8C-6 5 -6 -1 -6 -3a6 6 0 0 1 12 0C6 -1 6 5 9 8ZM-2 11H2M0 -9V-11');
icon(rightBar, rx, 602, 'M-14 7L-4 -4L3 7M-4 7L5 -5L13 5');
icon(rightBar, rx, 652, 'M8 -11H11V-6H8ZM8 -3H11V2H8ZM-8 1H-5V6H-8ZM-8 8H-5V12H-8ZM0 -8a1 1 0 1 0 .1 0M0 -2a1 1 0 1 0 .1 0M0 4a1 1 0 1 0 .1 0', { sw: 1 });
icon(rightBar, rx, 862, 'M0 -10L11 0L0 10L-11 0ZM-11 4L0 14L11 4M-11 8L0 18L11 8');
icon(rightBar, rx, 912, 'M-12 0a12 12 0 1 0 24 0a12 12 0 1 0 -24 0M-4 -3a4 4 0 1 1 6 4C0 2 0 3 0 4M0 7V8');

// ==================== bottom bars ====================

const bottomBar = svg.append('g');
rect(bottomBar, 56, 825, 1814, 112, '#fff');
hrule(bottomBar, 825.5, 56, 1870);
rect(bottomBar, 56, 864, 1814, 4, STRIP);
[83, 118, 160, 209, 258, 303, 340, 375.5, 414].forEach((v, i) => txt(bottomBar, v, 846, rangeLabels[i], { size: 14 }));
vrule(bottomBar, 444.5, 832, 858);
icon(bottomBar, 469, 846, 'M-7 -7H7V8H-1M-3 -10V-4M3 -10V-4M-9 2H1M-3 -2L1 2L-3 6');
txt(bottomBar, 1683, 846, '10:22:28 (UTC+8)', { size: 16 });
vrule(bottomBar, 1753, 832, 858);
txt(bottomBar, 1777, 846, '%', { size: 16 });
txt(bottomBar, 1807, 846, 'log', { size: 16 });
txt(bottomBar, 1845, 846, 'auto', { size: 16 });

hrule(bottomBar, 906.5, 56, 355);
hrule(bottomBar, 906.5, 458, 1870);
[166, 254, 355.5, 458, 547].forEach(v => vrule(bottomBar, v, 868, 906));
[107, 210, 305, 407, 503].forEach((v, i) => txt(bottomBar, v, 888, panelTabs[i], { family: cjk, size: 14, fill: i === 3 ? BLUE : INK }));
icon(bottomBar, 156, 887, 'M-3 -1.5L0 1.5L3 -1.5');
txt(bottomBar, 956, 927, '测试策略，将其应用到图表中。', { family: cjk, size: 18.5, fill: '#b0b0b0' });

// outlined site mark on top of everything
const mark = svg.append('g');
mark.append('text').attr('x', 1647).attr('y', 898).attr('textLength', 265).attr('lengthAdjust', 'spacingAndGlyphs')
  .style('font-family', sans).style('font-size', '38px')
  .style('fill', '#fff').style('stroke', '#666').style('stroke-width', 0.7).text('@Scope Markets');
icon(mark, 1618, 885, 'M12 -19C2 -21 -5 -14 -8 -3L-11 7M-2 -8H12M12 -6C12 4 6 12 -6 16L-9 19', { stroke: '#222', sw: 2.2 });

// the picture's latin text is narrow and tall: squeeze it, CJK labels stay as they are
svg.selectAll('text').each(function () {
  if (this.hasAttribute('textLength') || !this.style.fontFamily.startsWith('"Liberation Sans"')) return;
  if (/[^\x00-\x7f]/.test(this.textContent)) {
    this.style.fontFamily = cjk;
    return;
  }
  this.setAttribute('textLength', (this.getComputedTextLength() * 0.82).toFixed(1));
  this.setAttribute('lengthAdjust', 'spacingAndGlyphs');
});
</script>
</body>
</html>
